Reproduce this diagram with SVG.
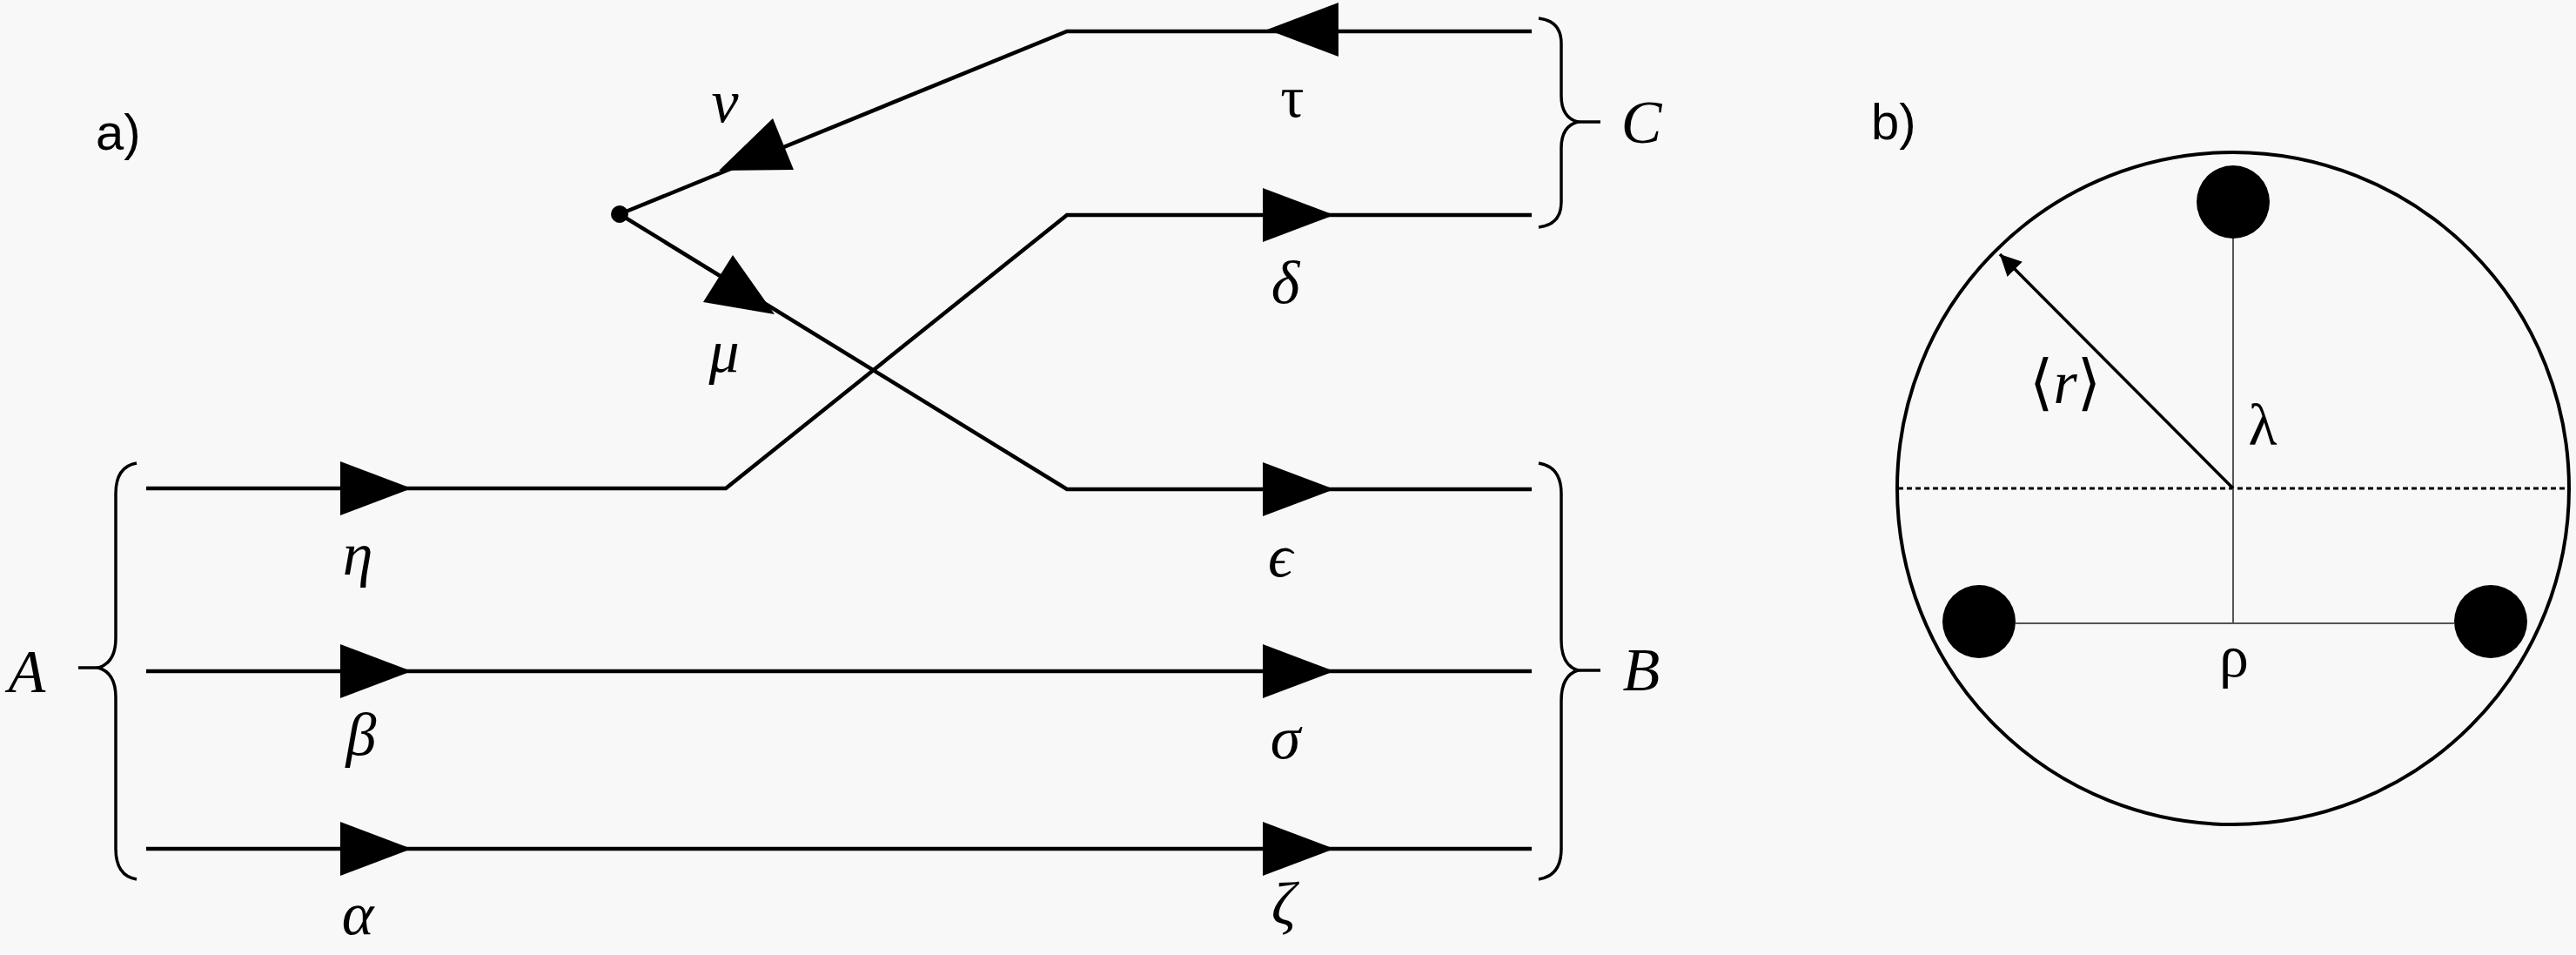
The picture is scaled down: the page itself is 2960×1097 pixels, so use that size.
<svg xmlns="http://www.w3.org/2000/svg" width="2960" height="1097" viewBox="0 0 2960 1097">
<style>
.bg{fill:#f8f8f8}
.ln{fill:none;stroke:#000;stroke-width:4.5;stroke-linejoin:miter}
.br{fill:none;stroke:#000;stroke-width:3.5}
.thin{fill:none;stroke:#555;stroke-width:2}
.ah{fill:#000}
.lbl{font-family:"Liberation Serif","DejaVu Serif",serif;font-style:italic;font-size:70px;fill:#000;text-anchor:middle}
.up{font-family:"Liberation Serif","DejaVu Serif",serif;font-size:68px;fill:#000;text-anchor:middle}
.pl{font-family:"Liberation Sans","DejaVu Sans",sans-serif;font-size:58px;fill:#000}
</style>
<defs>
<path id="tri" d="M0,-31 L82,0 L0,31 Z"/>
<marker id="rarrow" markerWidth="8" markerHeight="8" refX="7" refY="4" orient="auto" markerUnits="strokeWidth">
<path d="M0,0.5 L7,4 L0,7.5 Z" fill="#000"/>
</marker>
</defs>
<rect class="bg" x="0" y="0" width="2960" height="1097"/>

<g id="connectors">
<polyline class="ln" points="1760,36 1226,36 712,246"/>
<polyline class="ln" points="168,561 834,561 1226,247 1760,247"/>
<polyline class="ln" points="712,246 1226,562 1760,562"/>
<line class="ln" x1="168" y1="771" x2="1760" y2="771"/>
<line class="ln" x1="168" y1="975" x2="1760" y2="975"/>
<g class="ah">
<use href="#tri" transform="translate(1538,34) scale(-1,1)"/>
<polygon points="888,136 826,196 912,195"/>
<polygon points="842,293 808,347 890,361"/>
<use href="#tri" transform="translate(1451,247)"/>
<use href="#tri" transform="translate(391,561)"/>
<use href="#tri" transform="translate(1451,562)"/>
<use href="#tri" transform="translate(391,771)"/>
<use href="#tri" transform="translate(1451,771)"/>
<use href="#tri" transform="translate(391,975)"/>
<use href="#tri" transform="translate(1451,975)"/>
</g>
</g>

<g id="vertex"><circle cx="712" cy="246" r="10" fill="#000"/></g>

<g id="brace-A">
<path class="br" d="M157,532 Q133,536 133,567 L133,733 Q133,761 113,767 Q133,773 133,801 L133,975 Q133,1006 157,1010"/>
<line class="br" x1="90" y1="767" x2="113" y2="767"/>
<text class="lbl" x="31" y="795">A</text>
</g>
<g id="brace-B">
<path class="br" d="M1768,532 Q1794,536 1794,567 L1794,735 Q1794,764 1813,770 Q1794,776 1794,805 L1794,975 Q1794,1006 1768,1010"/>
<line class="br" x1="1813" y1="770" x2="1839" y2="770"/>
<text class="lbl" x="1886" y="793">B</text>
</g>
<g id="brace-C">
<path class="br" d="M1768,21 Q1794,24 1794,50 L1794,110 Q1794,135 1813,140 Q1794,145 1794,170 L1794,232 Q1794,258 1768,261"/>
<line class="br" x1="1813" y1="140" x2="1839" y2="140"/>
<text class="lbl" x="1886" y="164">C</text>
</g>

<g id="labels-a">
<text class="pl" x="110" y="172">a)</text>
<text class="lbl" x="833" y="140">ν</text>
<text class="lbl" x="832" y="427">μ</text>
<text class="up" x="1485" y="134">τ</text>
<text class="lbl" x="1477" y="348">δ</text>
<text class="lbl" x="411" y="660">η</text>
<text class="lbl" x="1471" y="662">ϵ</text>
<text class="lbl" x="415" y="867">β</text>
<text class="lbl" x="1477" y="871">σ</text>
<text class="lbl" x="411" y="1073">α</text>
<text class="lbl" x="1475" y="1062">ζ</text>
</g>

<g id="panel-b">
<text class="pl" x="2150" y="160">b)</text>
<circle class="ln" cx="2566" cy="561" r="386" style="stroke-width:4"/>
<line x1="2181" y1="561" x2="2952" y2="561" stroke="#000" stroke-width="3" stroke-dasharray="6,4"/>
<line class="thin" x1="2566" y1="273" x2="2566" y2="716"/>
<line class="thin" x1="2316" y1="716" x2="2820" y2="716"/>
<circle cx="2566" cy="232" r="42" fill="#000"/>
<circle cx="2274" cy="714" r="42" fill="#000"/>
<circle cx="2862" cy="714" r="42" fill="#000"/>
<line x1="2566" y1="561" x2="2298" y2="292" stroke="#000" stroke-width="3.5" marker-end="url(#rarrow)"/>
<text class="lbl" x="2373" y="463"><tspan style="font-style:normal">⟨</tspan>r<tspan style="font-style:normal">⟩</tspan></text>
<text class="up" x="2600" y="511">λ</text>
<text class="up" x="2567" y="777">ρ</text>
</g>
</svg>
